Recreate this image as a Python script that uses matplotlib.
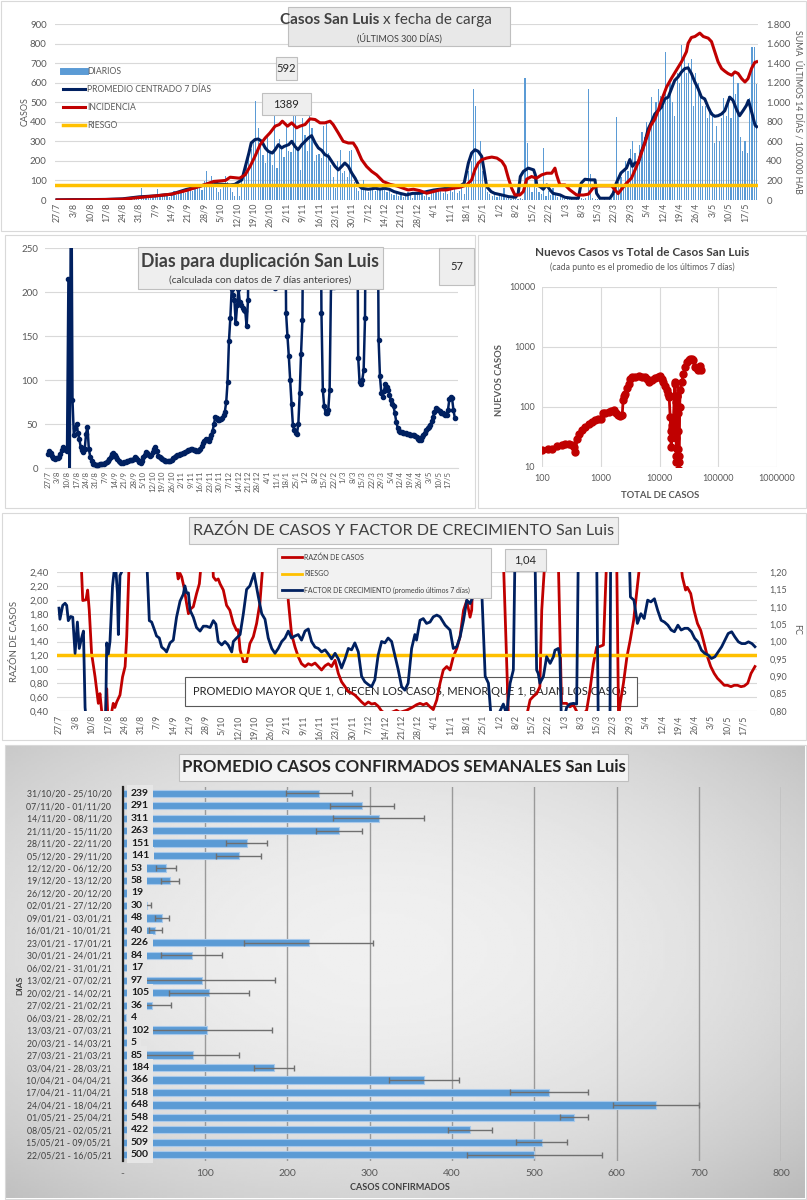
import numpy as np
import matplotlib
matplotlib.use('Agg')
import matplotlib.pyplot as plt
from matplotlib.patches import Rectangle
from matplotlib.lines import Line2D
from matplotlib.ticker import FuncFormatter

plt.rcParams['font.family'] = ['Lato', 'DejaVu Sans']

nan = np.nan
W, H = 807, 1200

# ---------------- datos ----------------
fechas = ['27/7', '3/8', '10/8', '17/8', '24/8', '31/8', '7/9', '14/9', '21/9', '28/9',
          '5/10', '12/10', '19/10', '26/10', '2/11', '9/11', '16/11', '23/11', '30/11',
          '7/12', '14/12', '21/12', '28/12', '4/1', '11/1', '18/1', '25/1', '1/2', '8/2',
          '15/2', '22/2', '1/3', '8/3', '15/3', '22/3', '29/3', '5/4', '12/4', '19/4',
          '26/4', '3/5', '10/5', '17/5']

# casos diarios (dia 0 = 27/7/2020)
diarios = [0, 1, 0, 2, 0, 1, 0,
           1, 0, 2, 3, 1, 0, 2,
           2, 4, 1, 3, 2, 5, 1,
           3, 2, 6, 4, 1, 5, 3,
           4, 8, 6, 10, 5, 12, 7,
           15, 60, 12, 18, 20, 14, 10,
           25, 58, 20, 18, 30, 22, 15,
           30, 45, 28, 35, 40, 50, 38,
           55, 70, 45, 60, 80, 65, 50,
           95, 148, 85, 125, 70, 60, 40,
           55, 80, 125, 90, 60, 40, 20,
           90, 20, 110, 150, 180, 255, 260,
           300, 505, 370, 280, 230, 190, 330,
           250, 180, 430, 165, 310, 260, 220,
           380, 250, 245, 430, 440, 260, 155,
           420, 330, 250, 460, 370, 200, 230,
           235, 215, 380, 395, 240, 180, 120,
           60, 200, 255, 140, 150, 120, 250,
           257, 90, 60, 45, 80, 100, 60,
           40, 55, 70, 45, 60, 50, 65,
           55, 40, 60, 30, 25, 45, 20,
           30, 15, 20, 40, 25, 10, 35,
           30, 25, 40, 20, 35, 15, 45,
           55, 40, 50, 45, 35, 60, 30,
           50, 40, 55, 35, 45, 60, 30,
           80, 150, 200, 566, 480, 200, 300,
           150, 60, 40, 30, 20, 25, 15,
           30, 20, 60, 10, 15, 5, 8,
           5, 3, 10, 4, 626, 292, 80,
           40, 120, 60, 40, 30, 266, 20,
           45, 25, 60, 35, 15, 20, 10,
           5, 8, 3, 10, 2, 6, 4,
           8, 5, 10, 566, 135, 10, 6,
           4, 3, 2, 5, 1, 4, 6,
           30, 422, 90, 120, 60, 200, 150,
           260, 300, 240, 190, 280, 350, 320,
           400, 380, 526, 420, 500, 569, 530,
           480, 759, 520, 600, 500, 430, 650,
           600, 793, 724, 650, 700, 720, 480,
           650, 600, 540, 480, 480, 420, 460,
           450, 290, 380, 300, 420, 520, 430,
           530, 420, 638, 540, 600, 320, 250,
           300, 240, 520, 784, 780, 595]

prom_dias = [0, 7, 14, 21, 28, 32, 35, 42, 49, 55, 62, 67, 69, 74, 76, 79, 80.5, 82, 83, 84.6,
             86, 87.5, 89, 90.3, 92, 93.2, 94.6, 96, 97, 99, 100.3, 101.7, 103, 104.6, 106,
             107.4, 108.8, 110.3, 111.7, 113.1, 114.5, 116, 117.4, 118.8, 120.2, 121.7, 123,
             124.5, 126, 127.4, 128.8, 130.2, 133, 136, 138, 140, 142, 144, 146.6, 149.4, 152,
             155, 158, 161, 166.5, 172, 174, 175.8, 177.2, 178.6, 180, 181.5, 182.5, 183.6,
             185.5, 187, 190, 193, 196, 197.1, 198, 199.3, 201.4, 203.7, 204.4, 205, 206.4,
             207.8, 209.3, 210.7, 212, 215, 217, 220, 222.8, 224, 225.6, 228, 229.9, 230.6,
             232, 236.3, 237.7, 239, 241, 243.4, 244.8, 245.9, 247, 248.5, 249.8, 251.2, 252.6,
             254, 255.5, 256.9, 258.3, 259.7, 261.2, 262.6, 264, 265.4, 266.9, 268.3, 269.7,
             271.1, 272.6, 274, 275.4, 276.8, 278.3, 279.7, 281.1, 282.5, 284, 285.4, 287.5,
             288.9, 290.3, 291.7, 293.2, 294.6, 295.5, 296.9, 298.3, 299]
prom_vals = [1, 2, 2, 3, 6, 12, 16, 21, 30, 53, 74, 91, 82, 77, 80, 103, 172, 240, 292, 309,
             312, 300, 266, 249, 240, 257, 283, 266, 274, 283, 300, 274, 257, 283, 300,
             317, 329, 292, 266, 254, 232, 223, 197, 172, 154, 172, 189,
             172, 137, 111, 77, 60, 55, 60, 56, 60, 55, 43, 34, 26, 34,
             34, 43, 51, 60, 69, 86, 189, 240, 257, 249, 223, 154, 69,
             43, 34, 26, 17, 14, 34, 120, 146, 163, 154, 129, 77, 69,
             55, 77, 51, 34, 26, 14, 9, 9, 86, 106, 103, 103, 34,
             9, 9, 34, 86, 138, 164, 207, 172, 190, 190, 250, 293, 362,
             397, 440, 457, 474, 517, 526, 569, 612, 629, 655, 672, 676,
             647, 603, 569, 526, 517, 474, 440, 428, 431, 440, 457, 526,
             509, 466, 431, 457, 483, 509, 448, 383, 375]

inc_dias = [0, 14, 28, 35, 42, 49, 55, 62, 67, 72, 74, 78, 80.4, 82.5, 84.6, 86.8, 89, 91,
            93.2, 95, 96.3, 98.5, 100.3, 102.4, 103.8, 106, 108.1, 110.3, 112.4, 114.5, 116.7,
            118, 120.2, 122.3, 124.5, 126.6, 128, 130.2, 132.3, 134.5, 136.6, 139.4, 142.3,
            145.2, 148, 150, 152.3, 155, 158, 160.8, 163.7, 166.5, 169.4, 172.2, 175.1, 177.2,
            178.6, 180, 181.5, 183.6, 185.8, 188, 190.1, 191.5, 192.9, 194.3, 195.7, 197.8,
            199.3, 200.7, 202.8, 204.9, 207.1, 209.3, 211.4, 212.8, 213.5, 214.9, 217.1, 219.2,
            222.1, 225, 227.1, 229, 231, 237, 239.8, 241.6, 243.4, 245.5, 247.7, 249.8, 252,
            253.7, 255.5, 256.9, 258.3, 260.5, 262.5, 264.7, 266.9, 269, 269.7, 271.1, 272.6,
            274.7, 276.2, 278.3, 279.7, 281.1, 282.5, 284, 285.4, 286.8, 288.3, 289.7, 291.1,
            292.6, 294, 295.3, 296.8, 298.2, 299]
inc_vals = [0, 2, 8, 25, 42, 60, 95, 147, 190, 200, 233, 223, 257, 343, 446, 566, 635, 686,
            755, 772, 806, 755, 789, 738, 755, 772, 830, 823, 789, 789, 806,
            772, 686, 600, 583, 583, 532, 412, 343, 292, 257, 189, 160,
            144, 120, 103, 110, 96, 69, 86, 103, 103, 120, 130, 154, 206,
            309, 377, 412, 429, 439, 429, 395, 343, 223, 120, 51, 51,
            86, 213, 240, 223, 257, 274, 274, 326, 257, 154, 154, 103,
            51, 51, 60, 120, 145, 145, 65, 121, 172, 224, 345, 483, 638,
            759, 828, 914, 1017, 1155, 1241, 1328, 1414, 1517, 1603, 1662, 1672,
            1707, 1672, 1655, 1620, 1517, 1414, 1345, 1317, 1293, 1276, 1310, 1293,
            1241, 1207, 1241, 1345, 1407, 1414]
riesgo_inc = 150

# dias para duplicacion (un valor por dia)
duplicacion = [16, 19, 17, 14, 11, 10, 11,
               11, 12, 16, 20, 24, 22, 20,
               19, 215, -10, 400, 77, 37, 45,
               50, 40, 33, 24, 20, 18, 22,
               39, 47, 22, 13, 8, 5, 4,
               3, 3, 3, 4, 4, 5, 5,
               6, 7, 8, 10, 13, 16, 17,
               15, 12, 10, 8, 7, 6, 6,
               7, 7, 8, 8, 9, 9, 9,
               10, 12, 11, 9, 7, 6, 8,
               12, 15, 18, 17, 15, 14, 15,
               18, 22, 24, 19, 14, 12, 11,
               10, 9, 8, 8, 8, 8, 8,
               9, 11, 13, 14, 15, 15, 16,
               16, 17, 17, 18, 19, 20, 21,
               22, 22, 21, 20, 19, 19, 20,
               22, 25, 28, 31, 33, 32, 31,
               34, 38, 42, 50, 58, 57, 54,
               55, 56, 57, 60, 64, 75, 98,
               144, 170, 203, 197, 191, 165, 185,
               203, 189, 185, 182, 180, 178, 161,
               191, 400, nan, nan, nan, nan, nan,
               nan, nan, nan, nan, nan, nan, nan,
               nan, nan, nan, nan, nan, 206, 205,
               nan, nan, nan, nan, nan, nan, 400,
               176, 150, 127, 100, 73, 49, 43,
               40, 39, 50, 85, 130, 168, 400,
               nan, nan, nan, nan, nan, nan, nan,
               nan, nan, nan, nan, 400, 176, 89,
               70, 63, 62, 66, 89, 206, 206,
               206, 400, nan, nan, nan, nan, nan,
               nan, nan, nan, nan, nan, nan, nan,
               nan, nan, nan, 400, 125, 98, 96,
               100, 111, 170, 400, nan, nan, nan,
               nan, nan, nan, nan, 400, 146, 104,
               85, 81, 88, 96, 92, 89, 83,
               77, 73, 70, 62, 52, 46, 42,
               41, 41, 40, 40, 40, 39, 39,
               38, 38, 38, 37, 36, 35, 33,
               32, 32, 35, 37, 40, 43, 45,
               47, 49, 53, 58, 64, 68, 67,
               66, 65, 63, 62, 61, 60, 60,
               66, 78, 81, 79, 66, 57]

# nuevos casos vs total (promedio 7 dias)
total_casos = [100, 125, 148, 180, 219, 250, 285, 320, 347, 370, 396, 430, 480, 550, 626, 700,
               790, 900, 1000, 1095, 1200, 1370, 1500, 1700, 1850, 2000, 2150, 2320, 2400, 2500,
               2630, 2800, 3000, 3200, 3400, 3900, 4500, 5000, 5700, 6100, 6600, 7400, 8400,
               9300, 10200, 10900, 11600, 12400, 13300, 14000, 14600,
               15200, 15500, 15800, 16000, 16300, 16500, 17000, 17300, 17800, 18200, 18500,
               18800, 19000, 19200, 19300, 19400, 19500, 19800, 20200, 20400, 20500, 20600,
               20700, 20800, 21000, 21200, 21300, 21400, 21500, 22000, 22600, 24000, 25500,
               27500, 29500, 31500, 33500, 35500, 37800, 40000, 43000, 46000, 48500, 50000]
nuevos_casos = [19.5, 20, 20, 22, 23, 24, 24.5, 23, 21.6, 17.8, 29.6, 35, 40.8, 46, 52.7, 57,
                60, 62, 64, 79, 80, 82, 85, 88, 80, 73, 72, 73, 129, 150,
                167, 205, 245, 290, 316, 320, 325, 318, 316, 290, 260, 280, 300,
                315, 325, 290, 260, 225, 190, 165, 147,
                68, 40, 21.5, 30, 45, 50, 41, 65, 150, 260, 240,
                120, 40, 30, 15, 12, 20, 150, 150, 80, 40, 20,
                12, 9, 100, 100, 15, 9, 12, 100, 190, 260, 360,
                460, 560, 610, 640, 625, 600, 464, 440, 410, 490, 410]

# razon de casos (eje izq) y factor de crecimiento (eje der)
razon_dias = [8.9, 9.7, 10.2, 11.6, 12.3, 13, 14, 15.5, 16.9, 17.6, 18.3, 19.3, 20, 20.5, 21,
              22.6, 23.3, 24, 24.8, 25.5, 26.2, 27.3, 28.4, 29.1, 30.2, 50.5, 50.8, 51.2, 52,
              52.7, 53.7, 54.8, 55.6, 56.6, 57.7, 59.1, 60.3, 61.3, 66, 66.3, 67.4, 68.4, 69.2,
              70.6, 72, 73.4, 74.9, 76.3, 77, 77.8, 79.2, 80.6, 82, 83.5, 84.9, 86.3, 87.8,
              97.5, 97.8, 98.5, 99.9, 101.4, 102.8, 104.2, 105.7, 107.1, 108.5, 110, 111.4,
              112.8, 114.3, 115.7, 117.1, 118.6, 120, 121.4, 122.9, 124.3, 125.7, 127.1, 128.6,
              130, 131.4, 132.9, 134.3, 135.7, 137.1, 138.6, 140.7, 145, 146.4, 149.3, 152.2,
              153.6, 155.1, 156.5, 157.9, 159.4, 160.8, 162.3, 163.7, 165.1, 166.6, 168,
              169.4, 170.9, 172.3, 173.8, 175.2, 176.6, 177.3, 178.1, 190.9, 193.1, 200.7,
              202.4, 203.8, 205.2, 206.6, 207.4, 208.8, 214.5, 215.9, 218.1, 219.5, 221,
              223.8, 226.7, 228.1, 229.6, 231, 232.5, 233.9, 235.3, 239.6, 240.4, 241.1,
              242.5, 244, 245.4, 246.9, 248.3, 249.8, 267, 267.8, 269.2, 269.9, 271.4, 272.8,
              274.3, 275.7, 277.2, 278.6, 280, 281.5, 282.9, 284.4, 285.8, 287.2, 288.7,
              290.1, 291.5, 293, 294.4, 295.9, 297.3, 299]
razon_vals = [2.6, 2.40, 1.99, 2.00, 2.14, 1.85, 1.23, 0.89, 0.51, 0.65, 0.41, 0.30, 0.30, 0.72,
              0.30, 0.38, 0.51, 0.45, 0.53, 0.58, 0.63, 0.89, 1.04, 1.47, 2.6, 2.6, 2.40, 2.30,
              2.38, 2.33, 2.18, 1.95, 1.80, 1.87, 1.90, 2.09, 2.23, 2.6, 2.6, 2.33, 2.28, 2.30,
              2.23, 2.14, 1.92, 1.85, 1.66, 1.56, 1.57, 1.28, 1.11, 1.11, 1.37, 1.47, 1.66,
              1.95, 2.6, 2.6, 2.40, 1.99, 1.51, 1.32, 1.18, 1.08, 1.04, 1.08, 1.06, 1.09, 1.04,
              0.99, 1.05, 1.08, 1.04, 1.13, 0.94, 0.82, 0.75, 0.68, 0.66, 0.63, 0.58,
              0.53, 0.49, 0.53, 0.50, 0.51, 0.47, 0.40, 0.35, 0.41, 0.38, 0.41, 0.46,
              0.49, 0.51, 0.49, 0.51, 0.46, 0.42, 0.56, 0.80, 0.99, 1.04, 0.99,
              1.18, 1.30, 1.47, 1.85, 1.99, 1.75, 1.85, 2.6, 2.6, 0.30, 0.30,
              0.56, 0.61, 0.65, 0.75, 1.85, 2.6, 2.6, 0.51, 0.51, 0.46, 0.49,
              0.30, 0.41, 0.70, 1.08, 1.32, 1.33, 1.35, 2.6, 2.6, 0.30, 0.51,
              0.80, 1.18, 1.42, 1.71, 2.14, 2.6, 2.6, 2.33, 2.14, 2.18, 2.09, 1.85,
              1.66, 1.56, 1.37, 1.18, 1.04, 0.94, 0.87, 0.82, 0.77, 0.77, 0.75,
              0.77, 0.77, 0.75, 0.76, 0.80, 0.94, 1.04]

fc_dias = [0, 0.4, 1.6, 2.6, 3.3, 4, 5, 5.9, 6.9, 7.9, 8.7, 9.7, 10.5, 11.2, 11.9, 20, 20.5,
           21.2, 21.9, 23, 23.8, 24.5, 25.1, 25.5, 26.2, 26.9, 27.9, 37.6, 38.8, 39.8, 41.2,
           41.9, 43.1, 44.1, 45.5, 46.2, 47.7, 49.1, 50.5, 52, 53.4, 54.1, 54.8, 55.6, 56.3,
           57.7, 59.1, 60.6, 62, 63.4, 64.9, 66.3, 67.4, 68.4, 69.9, 71.3, 72.7, 74.2, 74.9,
           76.3, 77.8, 79.2, 80.6, 82, 83.8, 85.6, 87.1, 88.5, 89.9, 91.4, 92.8, 94.2, 95.7,
           97.1, 98.5, 99.9, 101.4, 102.8, 104.2, 105.7, 107.1, 108.5, 110, 111.4, 112.8,
           114.3, 115.7, 117.1, 118.6, 120, 121.4, 122.9, 124.3, 125.7, 127.1, 128.6, 130,
           131.4, 132.9, 134.3, 135.7, 137.1, 138.6, 140, 141.4, 142.9, 144.3, 145.7, 147.2,
           148.6, 150, 151.5, 152.9, 153.6, 155.1, 156.5, 157.9, 159.4, 160.8, 162.3, 163.7,
           165.9, 168, 169.4, 170.9, 172.3, 173.8, 175.2, 176.6, 178.1, 179.5, 181, 183.1,
           184.5, 186, 190.9, 192.3, 193.8, 195.2, 195.9, 204.5, 205.2, 205.9, 206.6, 208.1,
           209.5, 211, 212.4, 213.1, 214.5, 215.2, 215.9, 218.1, 219.5, 221, 222.4, 223.1,
           231, 231.7, 236.7, 237, 245, 245.5, 247, 248.5, 250, 251.4, 252.9, 254.3, 255.8,
           257.2, 258.7, 260.1, 261.6, 263, 264.4, 265.9, 267.3, 268.8, 270.2, 271.7, 273.1,
           274.5, 276, 277.4, 278.9, 280.3, 281.8, 283.2, 284.7, 286.1, 287.5, 289, 290.4,
           291.9, 293.3, 294.8, 296.2, 297.7, 299]
fc_vals = [1.096, 1.064, 1.104, 1.110, 1.104, 1.060, 1.072, 1.070, 0.966, 1.056, 0.980, 1.010,
           1.030, 0.810, 0.760, 0.760, 0.996, 0.964, 1.000, 1.160, 1.210, 1.200, 1.140, 1.020,
           1.190, 1.200, 1.250, 1.250, 1.060, 1.056, 1.030, 1.016, 1.010, 0.984, 0.976, 0.970,
           0.996, 1.004, 1.070, 1.116, 1.136, 1.160, 1.140, 1.140, 1.090, 1.070, 1.040, 1.030,
           1.044, 1.044, 1.040, 1.060, 1.050, 1.000, 0.990, 1.000, 0.990, 0.970, 1.000, 1.010,
           1.020, 1.080, 1.150, 1.160, 1.196, 1.130, 1.080, 1.064, 1.010, 0.980, 0.966, 0.980,
           1.000, 1.010, 1.030, 1.010, 1.016, 1.020, 1.004, 1.030, 1.036, 1.000, 0.984, 0.980,
           0.970, 0.976, 0.964, 0.950, 0.966, 0.950, 0.924, 0.950, 0.980, 0.976, 0.996, 0.970,
           0.900, 0.884, 0.876, 0.870, 0.890, 0.960, 1.000, 0.996, 1.010, 1.000, 0.960, 0.920,
           0.870, 0.860, 0.880, 0.980, 1.020, 1.004, 1.061, 1.066, 1.052, 1.056, 1.071, 1.076,
           1.071, 1.047, 1.033, 0.980, 0.985, 1.013, 1.061, 1.119, 1.109, 1.133, 1.138, 1.250,
           0.900, 0.880, 0.750, 0.820, 0.790, 0.880, 0.918, 1.250, 1.250, 0.918, 0.908, 0.880,
           0.899, 0.956, 0.937, 0.956, 0.975, 0.980, 0.956, 0.750, 0.810, 0.820, 0.822, 0.820,
           1.250, 1.250, 0.750, 0.750, 1.250, 1.250, 1.128, 1.119, 1.052, 1.080, 1.066, 1.119,
           1.114, 1.123, 1.090, 1.061, 1.056, 1.047, 1.033, 1.028, 1.047, 1.033, 1.038, 1.038,
           1.028, 1.009, 0.999, 0.975, 0.966, 0.961, 0.951, 0.956, 0.970, 0.985, 1.004, 1.023,
           1.028, 1.013, 0.999, 0.994, 0.994, 0.999, 0.994, 0.985]
riesgo_razon = 1.2

# promedio semanal de casos confirmados
semanas = ['31/10/20 - 25/10/20', '07/11/20 - 01/11/20', '14/11/20 - 08/11/20',
           '21/11/20 - 15/11/20', '28/11/20 - 22/11/20', '05/12/20 - 29/11/20',
           '12/12/20 - 06/12/20', '19/12/20 - 13/12/20', '26/12/20 - 20/12/20',
           '02/01/21 - 27/12/20', '09/01/21 - 03/01/21', '16/01/21 - 10/01/21',
           '23/01/21 - 17/01/21', '30/01/21 - 24/01/21', '06/02/21 - 31/01/21',
           '13/02/21 - 07/02/21', '20/02/21 - 14/02/21', '27/02/21 - 21/02/21',
           '06/03/21 - 28/02/21', '13/03/21 - 07/03/21', '20/03/21 - 14/03/21',
           '27/03/21 - 21/03/21', '03/04/21 - 28/03/21', '10/04/21 - 04/04/21',
           '17/04/21 - 11/04/21', '24/04/21 - 18/04/21', '01/05/21 - 25/04/21',
           '08/05/21 - 02/05/21', '15/05/21 - 09/05/21', '22/05/21 - 16/05/21']
promedio_sem = [239, 291, 311, 263, 151, 141, 53, 58, 19, 30, 48, 40, 226, 84, 17, 97, 105,
                36, 4, 102, 5, 85, 184, 366, 518, 648, 548, 422, 509, 500]
error_sem = [40, 39, 55, 28, 25, 27, 12, 11, 0, 5, 8, 8, 78, 37, 0, 88, 48, 23, 0, 79, 0, 57,
             24, 42, 47, 52, 17, 27, 31, 82]

# ---------------- figura ----------------
fig = plt.figure(figsize=(W / 100, H / 100), dpi=100)

GRIS = '#595959'
OSCURO = '#404040'
AZUL = '#002060'
ROJO = '#c00000'
AMARILLO = '#ffc000'
CELESTE = '#5b9bd5'


def add_ax(l, t, r, b, **kw):
    return fig.add_axes([l / W, 1 - b / H, (r - l) / W, (b - t) / H], **kw)


def dlim(l, r, x0, s):
    return ((l - x0) / s, (r - x0) / s)


def caja(l, t, r, b, fc='#eeeeee', ec='#bfbfbf', lw=0.8, z=2.5, fill=True):
    fig.add_artist(Rectangle((l / W, 1 - b / H), (r - l) / W, (b - t) / H,
                             transform=fig.transFigure, fc=fc, ec=ec, lw=lw, zorder=z,
                             fill=fill))


def texto(x, y, s, **kw):
    kw.setdefault('zorder', 3)
    return fig.text(x / W, 1 - y / H, s, **kw)


def linea(x1, x2, y, **kw):
    fig.add_artist(Line2D([x1 / W, x2 / W], [1 - y / H, 1 - y / H],
                          transform=fig.transFigure, zorder=3, **kw))


def estilo(ax):
    for s in ax.spines.values():
        s.set_visible(False)
    ax.tick_params(length=0)


# marcos de cada grafico
caja(1, 1, 806, 231, fill=False, ec='#d9d9d9', z=2)
caja(5, 235, 475, 508, fill=False, ec='#d9d9d9', z=2)
caja(478, 235, 806, 508, fill=False, ec='#d9d9d9', z=2)
caja(2, 513, 806, 740, fill=False, ec='#d9d9d9', z=2)
caja(5, 745, 806, 1199, fill=False, ec='#d9d9d9', z=2)

# ---------- 1) casos diarios ----------
ax1 = add_ax(55, 24, 758, 200)
ax1.set_xlim(*dlim(55, 758, 57, 2.34))
ax1.set_ylim(0, 900)
ax1.bar(np.arange(len(diarios)), diarios, width=0.5, color=CELESTE, lw=0, zorder=2)
ax1.plot(prom_dias, prom_vals, color=AZUL, lw=2.2, zorder=3)
ax1.set_yticks(range(0, 901, 100))
ax1.grid(axis='y', color='#d9d9d9', lw=0.8)
ax1.set_axisbelow(True)
ax1.set_xticks(range(0, 295, 7))
ax1.set_xticklabels(fechas, rotation=90)
estilo(ax1)
ax1.tick_params(axis='x', labelsize=6.3, labelcolor=GRIS, pad=2)
ax1.tick_params(axis='y', labelsize=7, labelcolor=GRIS, pad=6)

ax1r = ax1.twinx()
ax1r.set_ylim(0, 1800)
ax1r.plot(inc_dias, inc_vals, color=ROJO, lw=2.2, zorder=3)
ax1r.axhline(riesgo_inc, color=AMARILLO, lw=2.5, zorder=4)
ax1r.set_yticks(range(0, 1801, 200))
ax1r.set_yticklabels(['0', '200', '400', '600', '800', '1.000', '1.200', '1.400', '1.600',
                      '1.800'])
estilo(ax1r)
ax1r.tick_params(axis='y', labelsize=6.8, labelcolor=GRIS, pad=6)

texto(25, 112, 'CASOS', rotation=90, fontsize=6.5, color=GRIS, ha='center', va='center')
texto(798, 112, 'SUMA  ÚLTIMOS 14 DÍAS / 100.000 HAB', rotation=270, fontsize=6.3,
      color=GRIS, ha='center', va='center')

caja(288, 7, 510, 46, fc='#e8e8e8')
texto(379, 20, 'Casos San Luis', fontsize=11, fontweight='bold', color=OSCURO,
      ha='right', va='center')
texto(383, 20, 'x fecha de carga', fontsize=11, color=OSCURO, ha='left', va='center')
texto(399, 38, '(ÚLTIMOS 300 DÍAS)', fontsize=6.5, color=OSCURO, ha='center', va='center')

ley1 = [('DIARIOS', CELESTE, 5), ('PROMEDIO CENTRADO 7 DÍAS', AZUL, 2.2),
        ('INCIDENCIA', ROJO, 2.2), ('RIESGO', AMARILLO, 2.5)]
for i, (lab, col, lw) in enumerate(ley1):
    y = 71 + 18 * i
    linea(63, 85, y, color=col, lw=lw)
    texto(87, y, lab, fontsize=6.2, color=GRIS, va='center')

caja(276, 57, 297, 80, fc='#eeeeee')
texto(286.5, 68.5, '592', fontsize=8, color='#262626', ha='center', va='center')
caja(262, 93, 311, 115, fc='#eeeeee')
texto(286.5, 104, '1389', fontsize=8, color='#262626', ha='center', va='center')

# ---------- 2) dias para duplicacion ----------
ax2 = add_ax(45, 248, 458, 468)
ax2.set_xlim(*dlim(45, 458, 48, 1.3605))
ax2.set_ylim(0, 250)
ax2.plot(np.arange(len(duplicacion)), duplicacion, color=AZUL, lw=1.8, marker='o', ms=3,
         zorder=3)
ax2.set_yticks(range(0, 251, 50))
ax2.grid(axis='y', color='#d9d9d9', lw=0.8)
ax2.set_axisbelow(True)
ax2.set_xticks(range(0, 295, 7))
ax2.set_xticklabels(fechas, rotation=90)
estilo(ax2)
ax2.spines['bottom'].set_visible(True)
ax2.spines['bottom'].set_color('#d9d9d9')
ax2.tick_params(axis='x', labelsize=5.6, labelcolor=GRIS, pad=2)
ax2.tick_params(axis='y', labelsize=7, labelcolor=GRIS, pad=5)

caja(138, 247, 383, 289, fc='#eeeeee')
texto(260, 262, 'Dias para duplicación San Luis', fontsize=12.8, fontweight='bold',
      color=OSCURO, ha='center', va='center')
texto(260, 280, '(calculada con datos de 7 días anteriores)', fontsize=7.3, color=OSCURO,
      ha='center', va='center')
caja(439, 248, 474, 285, fc='#eeeeee')
texto(456.5, 266.5, '57', fontsize=8, color='#262626', ha='center', va='center')

# ---------- 3) nuevos casos vs total ----------
ax3 = add_ax(542, 287, 777, 467)
ax3.set_xscale('log')
ax3.set_yscale('log')
ax3.set_xlim(100, 1e6)
ax3.set_ylim(10, 1e4)
ax3.plot(total_casos, nuevos_casos, color=ROJO, lw=2, marker='o', ms=5, zorder=3)
ax3.set_xticks([100, 1000, 10000, 100000, 1000000])
ax3.set_yticks([10, 100, 1000, 10000])
ax3.minorticks_off()
fmt = FuncFormatter(lambda v, p: f'{int(round(v))}')
ax3.xaxis.set_major_formatter(fmt)
ax3.yaxis.set_major_formatter(fmt)
ax3.grid(color='#d9d9d9', lw=0.8)
ax3.set_axisbelow(True)
estilo(ax3)
ax3.tick_params(labelsize=6.5, labelcolor=GRIS, pad=5)
texto(642, 252, 'Nuevos Casos vs Total de Casos San Luis', fontsize=8.5, fontweight='bold',
      color=OSCURO, ha='center', va='center')
texto(642, 267, '(cada punto es el promedio de los últimos 7 días)', fontsize=6.2,
      color=GRIS, ha='center', va='center')
texto(660, 495, 'TOTAL DE CASOS', fontsize=6.8, fontweight='bold', color=GRIS,
      ha='center', va='center')
texto(500, 380, 'NUEVOS CASOS', fontsize=6.8, fontweight='bold', color=GRIS,
      rotation=90, ha='center', va='center')

# ---------- 4) razon de casos y factor de crecimiento ----------
ax4 = add_ax(57, 572, 757, 711)
ax4.set_xlim(*dlim(57, 757, 59, 2.3276))
ax4.set_ylim(0.4, 2.4)
ax4.plot(razon_dias, razon_vals, color=ROJO, lw=2, zorder=2)
ax4.set_yticks(np.arange(0.4, 2.41, 0.2))
ax4.set_yticklabels([f'{v:.2f}'.replace('.', ',') for v in np.arange(0.4, 2.41, 0.2)])
ax4.grid(axis='y', color='#d9d9d9', lw=0.8)
ax4.set_axisbelow(True)
ax4.set_xticks(range(0, 295, 7))
ax4.set_xticklabels(fechas, rotation=90)
estilo(ax4)
ax4.tick_params(axis='x', labelsize=6.3, labelcolor=GRIS, pad=3)
ax4.tick_params(axis='y', labelsize=7, labelcolor=GRIS, pad=6)
ax4.add_patch(Rectangle((185 / W, 1 - 706 / H), 452 / W, 29 / H, transform=fig.transFigure,
                        fc='white', ec='#595959', lw=0.8, zorder=1.5, clip_on=False))
ax4.text(410 / W, 1 - 691.5 / H,
         'PROMEDIO MAYOR QUE 1, CRECEN LOS CASOS, MENOR QUE 1, BAJAN LOS CASOS',
         transform=fig.transFigure, fontsize=8, color='#262626', ha='center', va='center',
         zorder=1.6, clip_on=False)

ax4r = ax4.twinx()
ax4r.set_ylim(0.8, 1.2)
ax4r.axhline(0.8 + (riesgo_razon - 0.4) * 0.2, color=AMARILLO, lw=2.5, zorder=1)
ax4r.plot(fc_dias, fc_vals, color=AZUL, lw=2, zorder=2)
ax4r.set_yticks(np.arange(0.8, 1.201, 0.05))
ax4r.set_yticklabels([f'{v:.2f}'.replace('.', ',') for v in np.arange(0.8, 1.201, 0.05)])
estilo(ax4r)
ax4r.tick_params(axis='y', labelsize=6.5, labelcolor=GRIS, pad=9)

texto(15, 642, 'RAZÓN DE CASOS', rotation=90, fontsize=6.8, color=GRIS, ha='center',
      va='center')
texto(797, 630, 'FC', rotation=270, fontsize=6.5, color=GRIS, ha='center', va='center')

caja(189, 517, 618, 544, fc='#eeeeee')
texto(404, 531, 'RAZÓN DE CASOS Y FACTOR DE CRECIMIENTO San Luis', fontsize=11.6,
      color=OSCURO, ha='center', va='center')
caja(277, 548, 491, 598, fc='#f2f2f2')
ley4 = [('RAZÓN DE CASOS', ROJO), ('RIESGO', AMARILLO),
        ('FACTOR DE CRECIMIENTO (promedio últimos 7 días)', AZUL)]
for i, (lab, col) in enumerate(ley4):
    y = 557 + 16.5 * i
    linea(282, 302, y, color=col, lw=2)
    texto(304, y, lab, fontsize=5, color=OSCURO, va='center')
caja(505, 549, 546, 571, fc='#eeeeee')
texto(525.5, 560, '1,04', fontsize=8, color='#262626', ha='center', va='center')

# ---------- 5) promedio casos confirmados semanales ----------
fondo = add_ax(6, 746, 805, 1198, zorder=-1)
yy, xx = np.mgrid[0:1:200j, 0:1:300j]
grad = 0.94 - 0.36 * ((xx - 0.47) ** 2 + (yy - 0.45) ** 2)
fondo.imshow(grad, cmap='gray', vmin=0, vmax=1, aspect='auto', extent=[0, 1, 0, 1])
fondo.axis('off')

ax5 = add_ax(122.5, 787, 781.4, 1161, zorder=1)
ax5.patch.set_visible(False)
ypos = np.arange(len(semanas))
ax5.set_xlim(0, 800)
ax5.set_ylim(len(semanas) - 0.5, -0.5)
ax5.barh(ypos, promedio_sem, height=0.58, color=CELESTE, edgecolor='#a9c9ea', lw=0.8,
         zorder=2)
con_err = [i for i, e in enumerate(error_sem) if e > 0]
ax5.errorbar([promedio_sem[i] for i in con_err], [ypos[i] for i in con_err],
             xerr=[error_sem[i] for i in con_err], fmt='none', ecolor='#6f6f6f',
             elinewidth=1, capsize=2.2, capthick=1, zorder=3)
for i, v in enumerate(promedio_sem):
    ax5.text(10.3, i, str(v), fontsize=7.5, fontweight='bold', color='#1a1a1a',
             ha='left', va='center', zorder=4,
             bbox=dict(boxstyle='square,pad=0.4', fc='#e6e6e6', ec='none'))
ax5.set_yticks(ypos)
ax5.set_yticklabels(semanas)
ax5.set_xticks(range(0, 801, 100))
ax5.set_xticklabels(['-'] + [str(v) for v in range(100, 801, 100)])
ax5.grid(axis='x', color='#9a9a9a', lw=1)
ax5.set_axisbelow(True)
for s in ax5.spines.values():
    s.set_visible(False)
ax5.spines['left'].set_visible(True)
ax5.spines['left'].set_color('#262626')
ax5.spines['left'].set_linewidth(1.6)
ax5.tick_params(length=0)
ax5.tick_params(axis='y', labelsize=6.3, labelcolor=OSCURO, pad=8)
ax5.tick_params(axis='x', labelsize=7.5, labelcolor=GRIS, pad=6)

texto(400, 1187, 'CASOS CONFIRMADOS', fontsize=6.5, fontweight='bold', color=OSCURO,
      ha='center', va='center')
texto(20, 985, 'DIAS', fontsize=6, fontweight='bold', color=OSCURO, rotation=90,
      ha='center', va='center')
caja(179, 754, 628, 781, fc='#f4f4f4', ec='#bfbfbf')
texto(403.5, 767.5, 'PROMEDIO CASOS CONFIRMADOS SEMANALES San Luis', fontsize=12,
      fontweight='bold', color='#262626', ha='center', va='center')

fig.savefig('out.png', dpi=100)
